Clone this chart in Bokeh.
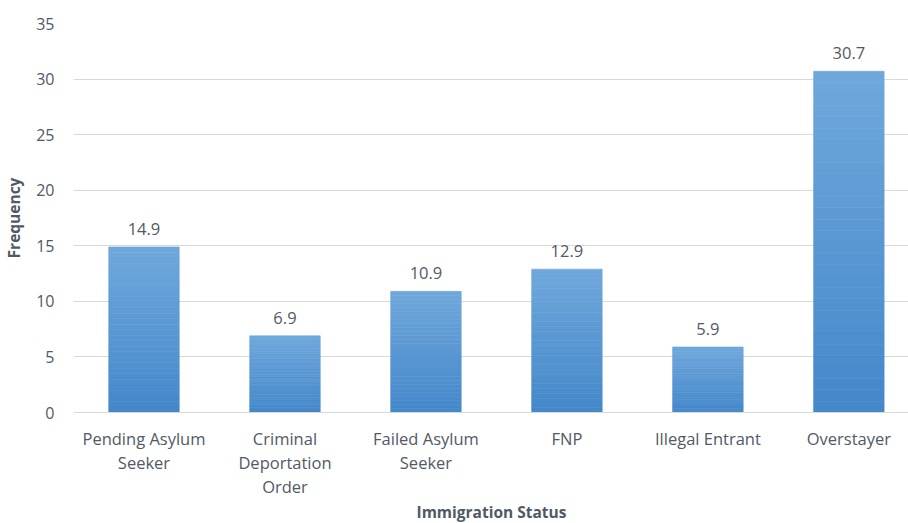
from bokeh.plotting import figure
from bokeh.models import Range1d, FixedTicker, ColumnDataSource
from bokeh.embed import file_html
from bokeh.resources import INLINE
from bokeh.core.properties import value

categories = ["Pending Asylum\nSeeker", "Criminal\nDeportation\nOrder", "Failed Asylum\nSeeker",
              "FNP", "Illegal Entrant", "Overstayer"]
frequency = [14.9, 6.9, 10.9, 12.9, 5.9, 30.7]
y_ticks = [0, 5, 10, 15, 20, 25, 30, 35]

FONT = "Open Sans"
TXT = "#505A66"

p = figure(frame_width=836, frame_height=389, output_backend="svg", toolbar_location=None,
           x_range=Range1d(-0.5, 5.43), y_range=Range1d(0, 35),
           min_border_left=60, min_border_right=0, min_border_top=23, min_border_bottom=0)
p.outline_line_color = None
p.background_fill_color = "white"

xs = list(range(len(categories)))

# simulated vertical gradient: light at top, darker at bottom
n = 30
top_c = (0x70, 0xA8, 0xDC)
bot_c = (0x44, 0x88, 0xCA)
l, r, b, t, col = [], [], [], [], []
for x, v in zip(xs, frequency):
    for i in range(n):
        f0 = i / n
        f1 = (i + 1) / n
        l.append(x - 0.25)
        r.append(x + 0.25)
        b.append(v * f0)
        t.append(v * f1)
        fm = (f0 + f1) / 2
        c = tuple(int(bot_c[k] + (top_c[k] - bot_c[k]) * fm) for k in range(3))
        col.append("#%02x%02x%02x" % c)
p.quad(left=l, right=r, bottom=b, top=t, fill_color=col, line_color=col, line_width=0.6)

src = ColumnDataSource(dict(x=xs, y=frequency, t=["%.1f" % v for v in frequency]))
p.text(x="x", y="y", text="t", source=src, y_offset=-12, text_align="center",
       text_baseline="bottom", text_font=value(FONT), text_font_size="16.5px", text_color=TXT)

p.xaxis.ticker = FixedTicker(ticks=xs)
p.xaxis.major_label_overrides = {i: c for i, c in enumerate(categories)}
p.xaxis.major_tick_line_color = None
p.xaxis.minor_tick_line_color = None
p.xaxis.axis_line_color = "#D9D9D9"
p.xaxis.major_label_text_font = FONT
p.xaxis.major_label_text_font_size = "16.5px"
p.xaxis.major_label_text_color = TXT
p.xaxis.major_label_text_line_height = 1.05
p.xaxis.major_label_standoff = 8
p.xaxis.axis_label = "Immigration Status"
p.xaxis.axis_label_text_font = FONT
p.xaxis.axis_label_text_font_style = "bold"
p.xaxis.axis_label_text_font_size = "15.5px"
p.xaxis.axis_label_text_color = TXT
p.xaxis.axis_label_standoff = 0

p.yaxis.ticker = FixedTicker(ticks=y_ticks)
p.yaxis.major_tick_line_color = None
p.yaxis.minor_tick_line_color = None
p.yaxis.axis_line_color = None
p.yaxis.major_label_text_font = FONT
p.yaxis.major_label_text_font_size = "16px"
p.yaxis.major_label_text_color = TXT
p.yaxis.major_label_standoff = 13
p.yaxis.axis_label = "Frequency"
p.yaxis.axis_label_text_font = FONT
p.yaxis.axis_label_text_font_style = "bold"
p.yaxis.axis_label_text_font_size = "15.5px"
p.yaxis.axis_label_text_color = TXT
p.yaxis.axis_label_standoff = 8

p.xgrid.grid_line_color = None
p.ygrid.grid_line_color = "#D9D9D9"
p.ygrid.grid_line_width = 1

open("out.html", "w").write(file_html(p, INLINE))
